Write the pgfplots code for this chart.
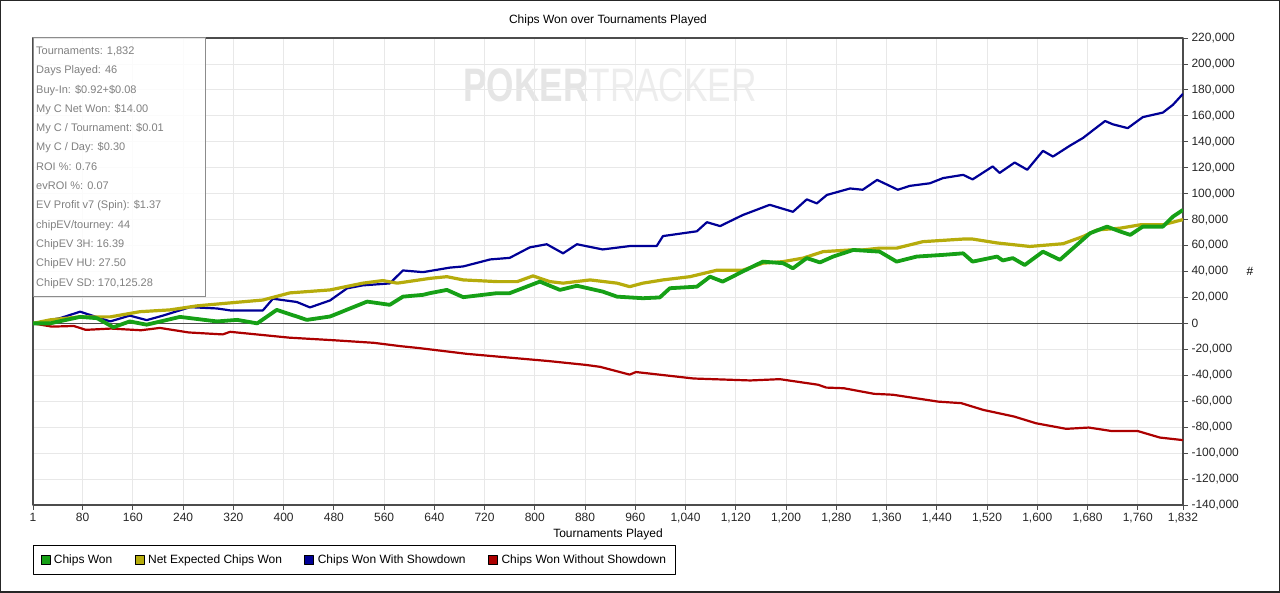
\documentclass[border=0pt]{standalone}
\usepackage{fontspec}
\setmainfont{Liberation Sans}
\usepackage{pgfplots}
\pgfplotsset{compat=1.18}
\definecolor{cgreen}{RGB}{22,160,22}
\definecolor{cgold}{RGB}{182,172,12}
\definecolor{cblue}{RGB}{0,0,150}
\definecolor{cred}{RGB}{172,0,0}

\pgfplotstableread{
t v
1 0
28 0
76 5000
103 4000
129 -3000
155 1500
182 -1000
235 5000
294 1500
326 2700
358 0
389 10400
421 5300
437 2700
474 5300
533 16800
569 14300
590 20600
622 22000
633 23300
660 25800
686 20200
740 23300
760 23300
808 32200
840 25800
867 29000
908 24500
931 20600
972 19400
999 20000
1015 27100
1058 28300
1079 36000
1099 32200
1131 40000
1163 47600
1195 46400
1211 42500
1233 50300
1254 47000
1275 51500
1307 56600
1349 55300
1376 47600
1408 51500
1450 52800
1482 54000
1497 47600
1536 51500
1545 48500
1561 50300
1580 45000
1609 55300
1636 49000
1663 60500
1684 69500
1711 74600
1732 70800
1748 68200
1768 74600
1800 74600
1816 82300
1832 87500
}\chipswon

\pgfplotstableread{
t v
1 0
28 2700
76 5000
124 5000
171 9000
219 10400
262 13500
315 15800
367 18000
410 23500
474 25800
526 31000
558 33000
581 31000
633 34700
660 36000
686 33500
740 32200
772 32200
797 36600
824 32200
845 31000
888 33500
931 31000
951 28300
972 31000
1004 33500
1047 36000
1090 41000
1131 41000
1163 46400
1195 47600
1227 50300
1259 55300
1302 56600
1322 56600
1349 58000
1376 58000
1418 63000
1482 65000
1497 65000
1536 62000
1588 59300
1641 61400
1673 67000
1695 72000
1732 73400
1764 76000
1800 76000
1832 80000
}\netexp

\pgfplotstableread{
t v
1 0
44 4000
76 9000
124 1500
155 6000
182 2500
208 6000
251 12500
294 11500
315 10000
367 10000
383 19000
421 16500
442 12300
474 17700
501 27000
526 29300
569 30800
590 40800
622 39500
665 43000
686 43900
729 49300
760 50500
792 58600
819 61000
845 54000
867 61000
908 57000
951 59600
994 59600
1004 67300
1058 71000
1074 78000
1095 75000
1131 83500
1174 91400
1211 86000
1233 95600
1249 92500
1265 99000
1302 104000
1322 103000
1345 110600
1378 103000
1397 106000
1429 108000
1450 112000
1482 114500
1497 111000
1529 121000
1540 116000
1564 124000
1584 118400
1609 133000
1625 128600
1652 137000
1673 143000
1689 149000
1708 156000
1720 153500
1744 150500
1768 159000
1800 162500
1816 168500
1832 177000
}\withsd

\pgfplotstableread{
t v
1 0
31 -2500
66 -2000
85 -5000
125 -4000
173 -5300
203 -3500
249 -7000
303 -8500
315 -6500
409 -11000
480 -13000
544 -15000
585 -17500
615 -19000
692 -23500
762 -26500
821 -29000
881 -32000
904 -33500
951 -39500
961 -37500
1053 -42500
1143 -44000
1190 -43000
1251 -47300
1264 -49500
1292 -50000
1340 -54300
1370 -55000
1442 -60300
1479 -61500
1514 -66700
1563 -71800
1598 -77000
1646 -81300
1682 -80300
1717 -82900
1760 -83000
1795 -88000
1832 -90000
}\withoutsd

\begin{document}
\begin{tikzpicture}[x=1bp,y=1bp]
\useasboundingbox (0,0) rectangle (1280,593);
% watermark
\node[inner sep=0, font=\fontsize{47bp}{47bp}\selectfont] at (610,508)
  {\scalebox{0.75}[1]{\textcolor{black!10}{\textbf{POKER}}\textcolor{black!7}{TRACKER}}};
\begin{axis}[
  at={(33bp,88bp)}, anchor=south west,
  scale only axis, width=1150bp, height=467bp,
  xmin=1, xmax=1832, ymin=-140000, ymax=220000,
  xtick={1,80,160,240,320,400,480,560,640,720,800,880,960,1040,1120,1200,1280,1360,1440,1520,1600,1680,1760,1832},
  ytick={-140000,-120000,-100000,-80000,-60000,-40000,-20000,0,20000,40000,60000,80000,100000,120000,140000,160000,180000,200000,220000},
  scaled x ticks=false, scaled y ticks=false,
  xtick pos=bottom, ytick pos=right, yticklabel pos=right,
  tick align=outside, major tick length=5bp,
  tick style={black!70, line width=0.8bp},
  grid=major, major grid style={black!9, line width=0.8bp},
  axis line style={black!70, line width=1.3bp},
  ticklabel style={font=\fontsize{12bp}{14bp}\selectfont, text=black!85},
  /pgf/number format/fixed,
  /pgf/number format/precision=0,
  /pgf/number format/1000 sep={,},
  /pgf/number format/assume math mode=true,
  extra y ticks={0}, extra y tick labels={},
  extra y tick style={grid=major, major grid style={black!70, line width=1.6bp}},
  title={Chips Won over Tournaments Played},
  title style={at={(0.5,1)}, anchor=base, yshift=8.5bp, font=\fontsize{12bp}{14bp}\selectfont},
  xlabel={Tournaments Played},
  every axis x label/.style={at={(rel axis cs:0.5,0)}, anchor=base, yshift=-33bp, font=\fontsize{12bp}{14bp}\selectfont},
  ylabel={\#},
  every axis y label/.style={at={(rel axis cs:1,0.5)}, anchor=center, xshift=67bp, font=\fontsize{12bp}{14bp}\selectfont},
  legend columns=4,
  legend style={at={(rel axis cs:0,0)}, anchor=north west, yshift=-40bp,
    draw=black, line width=1bp, font=\fontsize{12bp}{14bp}\selectfont,
    inner xsep=7bp, inner ysep=7.5bp,
    /tikz/every even column/.append style={column sep=20.5bp}},
  legend image code/.code={\filldraw[#1,draw=black,line width=0.7bp] (0bp,-4.5bp) rectangle (9bp,4.5bp); \path[draw=none,fill=none] (0bp,0bp) -- (11bp,0bp);},
  line join=round,
]
\addplot[cred, line width=2.2bp, forget plot] table[x=t,y=v] {\withoutsd};
\addplot[cblue, line width=2.2bp, forget plot] table[x=t,y=v] {\withsd};
\addplot[cgold, line width=3.2bp, forget plot] table[x=t,y=v] {\netexp};
\addplot[cgreen, line width=3.8bp, forget plot] table[x=t,y=v] {\chipswon};
\addlegendimage{fill=cgreen}\addlegendentry{Chips Won}
\addlegendimage{fill=cgold}\addlegendentry{Net Expected Chips Won}
\addlegendimage{fill=cblue}\addlegendentry{Chips Won With Showdown}
\addlegendimage{fill=cred}\addlegendentry{Chips Won Without Showdown}
\end{axis}
% info box
\draw[black!45, fill=white, fill opacity=0.85, line width=1bp] (33.5,555) rectangle (205,296);
\foreach \txt [count=\i] in {{Tournaments: 1,832},{Days Played: 46},{Buy-In: \$0.92+\$0.08},{My C Net Won: \$14.00},{My C / Tournament: \$0.01},{My C / Day: \$0.30},{ROI \%: 0.76},{evROI \%: 0.07},{EV Profit v7 (Spin): \$1.37},{chipEV/tourney: 44},{ChipEV 3H: 16.39},{ChipEV HU: 27.50},{ChipEV SD: 170,125.28}}
  \node[anchor=base west, inner sep=0, text=black!50, font=\fontsize{11bp}{13bp}\selectfont] at (36,{538.5-19.3*(\i-1)}) {\txt};
% outer frame
\draw[black!85, line width=1.5bp] (0.75,0.75) rectangle (1279.25,592.25);
\end{tikzpicture}
\end{document}
